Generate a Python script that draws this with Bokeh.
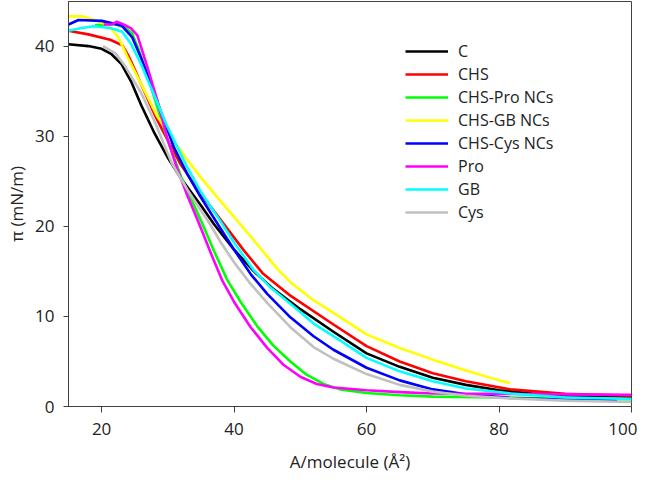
from bokeh.plotting import figure
from bokeh.models import FixedTicker, Legend, LegendItem, Range1d
from bokeh.embed import file_html
from bokeh.resources import INLINE

# ---- data (A/molecule in Å², surface pressure in mN/m) ----
C_x = [15, 18, 20, 21.5, 23, 24.5, 26, 28, 30, 32, 35, 37, 40, 43, 46, 50, 55, 60, 65, 70, 75, 80, 85, 90, 95, 100]
C_y = [40.2, 40.0, 39.7, 39.1, 38.0, 36.0, 33.4, 30.3, 27.6, 25.3, 22.3, 20.2, 17.4, 15.0, 13.0, 10.8, 8.3, 5.9, 4.4, 3.2, 2.4, 1.8, 1.45, 1.25, 1.15, 1.1]

CHS_x = [15, 18, 21.3, 23.1, 24, 25, 26, 28, 30, 32, 35, 38.4, 41.5, 44.3, 48.5, 55, 60, 65, 70, 75, 81.7, 90, 100]
CHS_y = [41.7, 41.3, 40.7, 40.1, 39.0, 37.4, 35.7, 32.4, 29.5, 26.8, 23.6, 20.3, 17.3, 14.8, 12.3, 9.1, 6.7, 5.0, 3.7, 2.8, 1.9, 1.4, 1.2]

PRONC_x = [19, 20.5, 22, 23.5, 24.6, 25.5, 27, 28.5, 30, 32, 35.2, 37, 39, 41, 43.5, 46, 48.5, 51, 53.5, 56, 60, 65, 70, 80, 90, 100]
PRONC_y = [42.3, 42.4, 42.4, 42.1, 41.4, 39.8, 36.5, 33.0, 29.5, 25.5, 20.3, 17.2, 14.0, 11.6, 8.9, 6.7, 5.0, 3.5, 2.5, 1.9, 1.5, 1.25, 1.1, 1.0, 0.85, 0.8]

GBNC_x = [15, 17, 19, 20.3, 21.5, 22.5, 23.9, 25.9, 28.4, 30.4, 32.7, 35, 38.4, 41.2, 43.5, 46.5, 48.5, 52, 55, 60, 65, 70, 75, 80, 81.7]
GBNC_y = [43.3, 43.3, 42.9, 42.5, 41.9, 41.0, 38.8, 35.9, 32.2, 30.0, 27.6, 25.4, 22.4, 20.0, 18.0, 15.3, 13.8, 11.8, 10.4, 8.0, 6.5, 5.2, 4.0, 2.9, 2.6]

CYSNC_x = [15, 16.5, 20, 23, 24.6, 25.9, 27.4, 29.1, 30.9, 33, 35, 37.4, 40, 42.5, 45, 48.5, 52, 55, 60, 65, 70, 75, 81.7, 90, 97.8]
CYSNC_y = [42.4, 42.9, 42.8, 42.3, 41.0, 38.8, 35.9, 32.4, 28.8, 25.7, 23.2, 20.4, 17.4, 14.7, 12.5, 9.9, 7.8, 6.3, 4.3, 2.9, 1.9, 1.35, 0.95, 0.75, 0.7]

PRO_x = [20.3, 21.5, 22.3, 23.3, 24.4, 25.4, 26.9, 28.4, 29.9, 31.4, 33, 34.6, 36.5, 38.2, 40, 42.5, 45, 47.5, 50, 52.5, 55, 60, 65, 70, 80, 90, 100]
PRO_y = [42.4, 42.4, 42.7, 42.4, 42.0, 41.2, 37.7, 34.0, 29.8, 26.4, 23.3, 20.5, 17.0, 14.0, 11.6, 8.8, 6.5, 4.6, 3.3, 2.5, 2.1, 1.8, 1.6, 1.45, 1.4, 1.35, 1.3]

GB_x = [15, 17, 18.8, 21.3, 23.1, 24.4, 25.9, 27.4, 29.9, 32.9, 35, 37.9, 40, 43, 45.5, 48.5, 52, 55, 60, 65, 70, 75, 81.7, 90, 100]
GB_y = [41.7, 42.0, 42.2, 42.0, 41.6, 40.3, 38.1, 35.5, 31.1, 26.6, 23.8, 20.6, 18.2, 15.1, 13.2, 11.4, 9.2, 7.8, 5.4, 3.9, 2.8, 2.0, 1.45, 1.0, 0.85]

CYS_x = [20.2, 22.1, 23.6, 25.9, 27.9, 30.6, 33, 36.4, 38, 40, 42.5, 45, 48.5, 52, 55, 60, 65, 70, 75, 81.7, 90, 100]
CYS_y = [40.0, 39.2, 37.7, 34.9, 31.8, 27.0, 24.0, 20.2, 18.2, 16.0, 13.6, 11.5, 8.8, 6.6, 5.3, 3.6, 2.4, 1.65, 1.2, 0.9, 0.65, 0.5]

series_names = ["C", "CHS", "CHS-Pro NCs", "CHS-GB NCs", "CHS-Cys NCs", "Pro", "GB", "Cys"]
series_x = [C_x, CHS_x, PRONC_x, GBNC_x, CYSNC_x, PRO_x, GB_x, CYS_x]
series_y = [C_y, CHS_y, PRONC_y, GBNC_y, CYSNC_y, PRO_y, GB_y, CYS_y]
series_colors = ["#000000", "#ff0000", "#00ff00", "#ffff00", "#0000ff", "#ff00ff", "#00ffff", "#c0c0c0"]

x_ticks = [20, 40, 60, 80, 100]
y_ticks = [0, 10, 20, 30, 40]

FONT = "Open Sans"
TXT = "#222222"
FRAME = "#404040"

p = figure(width=637, height=482,
           x_range=Range1d(15, 100), y_range=Range1d(0, 44.95),
           output_backend="svg", toolbar_location=None,
           min_border_left=68, min_border_right=6, min_border_top=1, min_border_bottom=76)

p.grid.visible = False
p.outline_line_color = FRAME
p.outline_line_width = 1
p.background_fill_color = "white"
p.border_fill_color = "white"

for ax in (p.xaxis[0], p.yaxis[0]):
    ax.axis_line_color = FRAME
    ax.major_tick_line_color = FRAME
    ax.minor_tick_line_color = None
    ax.major_tick_in = 0
    ax.major_label_text_font = FONT
    ax.major_label_text_font_size = "17px"
    ax.major_label_text_color = TXT
    ax.axis_label_text_font = FONT
    ax.axis_label_text_font_size = "17px"
    ax.axis_label_text_font_style = "normal"
    ax.axis_label_text_color = TXT

p.xaxis.ticker = FixedTicker(ticks=x_ticks)
p.yaxis.ticker = FixedTicker(ticks=y_ticks)
p.xaxis.major_tick_out = 6
p.yaxis.major_tick_out = 5
p.xaxis.major_label_standoff = 10
p.yaxis.major_label_standoff = 9
p.xaxis.axis_label = "A/molecule (Å²)"
p.yaxis.axis_label = "π (mN/m)"
p.xaxis.axis_label_standoff = 12
p.yaxis.axis_label_standoff = 4

items = []
for name, xs, ys, col in zip(series_names, series_x, series_y, series_colors):
    r = p.line(xs, ys, line_color=col, line_width=2.6, line_join="round")
    items.append(LegendItem(label=name, renderers=[r]))

legend = Legend(items=items, location=(337, 183),
                border_line_color=None, background_fill_alpha=0,
                padding=0, margin=0, spacing=1,
                label_height=22, glyph_height=22, glyph_width=43,
                label_standoff=10,
                label_text_font=FONT, label_text_font_size="16px",
                label_text_color=TXT)
p.add_layout(legend, "center")

open("out.html", "w").write(file_html(p, INLINE))
